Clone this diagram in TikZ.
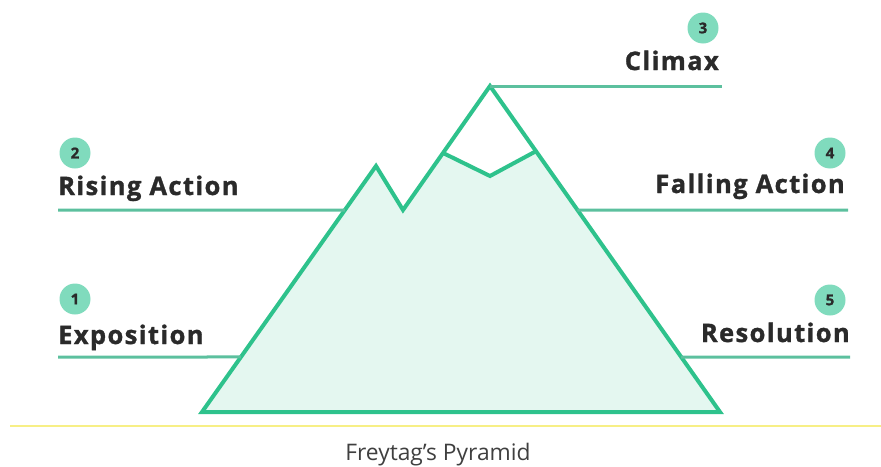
\documentclass[tikz,border=0pt]{standalone}
\usepackage{fontspec}
\setmainfont{Open Sans}
\newfontfamily\lblfont[LetterSpace=5.5,BoldFeatures={FakeBold=1.2}]{Open Sans}
\usetikzlibrary{calc}
\definecolor{pgreen}{HTML}{2EC28C}
\definecolor{lgreen}{HTML}{5CC09E}
\definecolor{mint}{HTML}{E4F7F0}
\definecolor{dotfill}{HTML}{80DBBD}
\definecolor{txt}{HTML}{2A2A2A}
\definecolor{yline}{HTML}{F7EF86}
\tikzset{
  lbl/.style={inner sep=0pt, font=\lblfont\bfseries\fontsize{25.5}{25.5}\selectfont, text=txt},
  num/.style={circle, fill=dotfill, minimum size=31pt, inner sep=0pt, font=\lblfont\bfseries\fontsize{15}{15}\selectfont, text=txt},
  outline/.style={draw=pgreen, line width=4pt, line join=miter},
  uline/.style={draw=lgreen, line width=3pt},
  caption/.style={inner sep=0pt, font=\fontsize{22.8}{22.8}\selectfont, text=txt!90}
}
\begin{document}
\begin{tikzpicture}[x=1pt,y=-1pt]
\useasboundingbox (0,0) rectangle (881,466);
% pyramid vertices
\coordinate (A) at (202,412);
\coordinate (B) at (376,166);
\coordinate (C) at (403,210);
\coordinate (D) at (490,86);
\coordinate (E) at (720,412);
\coordinate (VL) at ($(C)!0.46!(D)$);
\coordinate (VB) at (490,176);
\coordinate (VR) at ($(D)!0.2!(E)$);
% fills
\fill[mint] (A) -- (B) -- (C) -- (D) -- (E) -- cycle;
\fill[white] (VL) -- (D) -- (VR) -- (VB) -- cycle;
% outline
\draw[outline] (A) -- (B) -- (C) -- (D) -- (E) -- cycle;
\draw[outline] (VL) -- (VB) -- (VR);
% label line ends
\coordinate (expS) at (58,357);
\coordinate (expE) at ($(A)!0.2236!(B)$);
\coordinate (risS) at (58,210);
\coordinate (risE) at ($(A)!0.8211!(B)$);
\coordinate (cliE) at (722,86);
\coordinate (falS) at ($(D)!0.3804!(E)$);
\coordinate (falE) at (848,210);
\coordinate (resS) at ($(D)!0.8313!(E)$);
\coordinate (resE) at (850,357);
\draw[uline] (expS) -- (expE);
\draw[uline] (risS) -- (risE);
\draw[uline] (D) -- (cliE);
\draw[uline] (falS) -- (falE);
\draw[uline] (resS) -- (resE);
% labels
\node[lbl, anchor=base west] (exp) at (58,344) {Exposition};
\node[lbl, anchor=base west] (ris) at (58,195) {Rising Action};
\node[lbl, anchor=base east] (cli) at (719,70) {Climax};
\node[lbl, anchor=base east] (fal) at (845,193) {Falling Action};
\node[lbl, anchor=base east] (res) at (850,342) {Resolution};
% number circles
\node[num] (n1) at (75,299) {1};
\node[num] (n2) at (75,153) {2};
\node[num] (n3) at (703,28) {3};
\node[num] (n4) at (830,153) {4};
\node[num] (n5) at (830,300) {5};
% bottom rule and caption
\coordinate (yl) at (10,426);
\coordinate (yr) at (881,426);
\draw[yline, line width=2.5pt] (yl) -- (yr);
\node[caption, anchor=base] (cap) at (438,460) {Freytag’s Pyramid};
\end{tikzpicture}
\end{document}
